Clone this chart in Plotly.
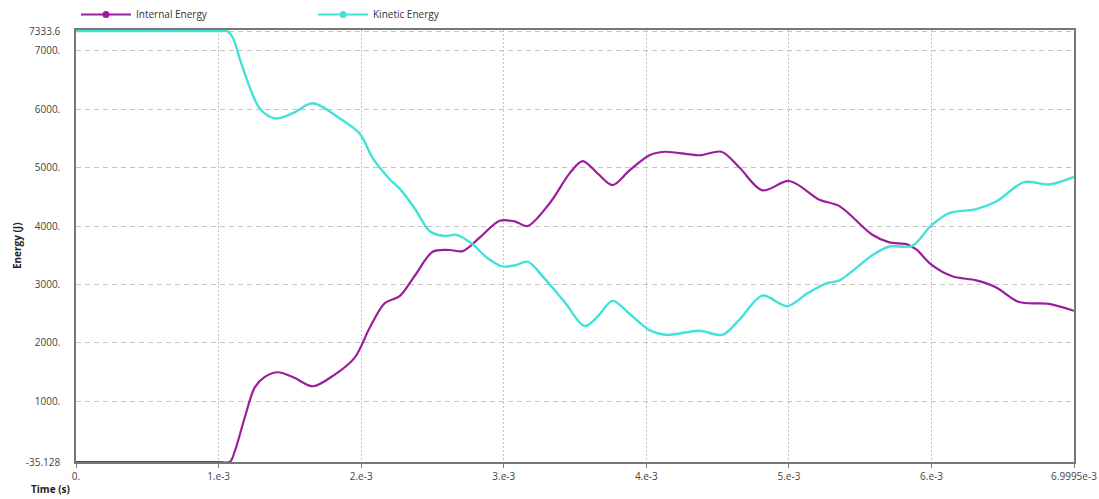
import plotly.graph_objects as go

# Time stamps (s) and energies (J)
time_kinetic = [0.0, 0.5e-3, 1.0e-3, 1.060e-3, 1.100e-3, 1.150e-3, 1.219e-3, 1.289e-3, 1.395e-3,
                1.521e-3, 1.661e-3, 1.850e-3, 1.990e-3, 2.081e-3, 2.200e-3, 2.270e-3, 2.376e-3,
                2.481e-3, 2.586e-3, 2.670e-3, 2.775e-3, 2.887e-3, 2.992e-3, 3.083e-3, 3.167e-3,
                3.287e-3, 3.427e-3, 3.567e-3, 3.658e-3, 3.763e-3, 3.882e-3, 4.022e-3, 4.142e-3,
                4.373e-3, 4.534e-3, 4.653e-3, 4.814e-3, 4.989e-3, 5.130e-3, 5.263e-3, 5.354e-3,
                5.585e-3, 5.704e-3, 5.865e-3, 5.999e-3, 6.125e-3, 6.314e-3, 6.454e-3, 6.650e-3,
                6.825e-3, 6.9995e-3]
kinetic_energy = [7333.6, 7333.6, 7333.6, 7333.6, 7220, 6850, 6370, 6010, 5840,
                  5930, 6100, 5840, 5580, 5160, 4800, 4640, 4300,
                  3910, 3830, 3850, 3700, 3450, 3310, 3330, 3390,
                  3100, 2700, 2290, 2450, 2720, 2500, 2220, 2140,
                  2210, 2140, 2400, 2810, 2630, 2850, 3020, 3070,
                  3500, 3650, 3660, 4010, 4220, 4290, 4420, 4750,
                  4710, 4840]

time_internal = [0.0, 0.5e-3, 1.0e-3, 1.079e-3, 1.114e-3, 1.184e-3, 1.254e-3, 1.324e-3, 1.416e-3,
                 1.535e-3, 1.661e-3, 1.815e-3, 1.955e-3, 2.060e-3, 2.165e-3, 2.270e-3, 2.376e-3,
                 2.502e-3, 2.621e-3, 2.712e-3, 2.831e-3, 2.971e-3, 3.076e-3, 3.167e-3, 3.322e-3,
                 3.462e-3, 3.553e-3, 3.658e-3, 3.763e-3, 3.882e-3, 4.022e-3, 4.128e-3, 4.373e-3,
                 4.527e-3, 4.653e-3, 4.814e-3, 5.003e-3, 5.214e-3, 5.354e-3, 5.585e-3, 5.704e-3,
                 5.823e-3, 5.893e-3, 5.999e-3, 6.146e-3, 6.314e-3, 6.454e-3, 6.615e-3, 6.825e-3,
                 6.9995e-3]
internal_energy = [-35.128, -35.128, -35.128, -35.128, 150, 730, 1240, 1420, 1500,
                   1400, 1260, 1460, 1750, 2260, 2680, 2800, 3150,
                   3560, 3590, 3570, 3800, 4090, 4080, 4000, 4390,
                   4900, 5110, 4900, 4700, 4950, 5210, 5270, 5210,
                   5270, 5000, 4610, 4770, 4450, 4340, 3850, 3720,
                   3690, 3600, 3340, 3140, 3070, 2950, 2700, 2670,
                   2550]

x_tickvals = [0.0, 1e-3, 2e-3, 3e-3, 4e-3, 5e-3, 6e-3, 6.9995e-3]
x_ticktext = ["0.", "1.e-3", "2.e-3", "3.e-3", "4.e-3", "5.e-3", "6.e-3", "6.9995e-3"]
y_tickvals = [-35.128, 1000, 2000, 3000, 4000, 5000, 6000, 7000, 7333.6]
y_ticktext = ["-35.128", "1000.", "2000.", "3000.", "4000.", "5000.", "6000.", "7000.", "7333.6"]

PURPLE = "#9A1E9C"
CYAN = "#42E2D8"
FONT = "Open Sans"

fig = go.Figure()
fig.add_trace(go.Scatter(
    x=time_internal, y=internal_energy, name="Internal Energy", showlegend=False,
    mode="lines", line=dict(color=PURPLE, width=2.2, shape="spline", smoothing=0.9),
))
fig.add_trace(go.Scatter(
    x=time_kinetic, y=kinetic_energy, name="Kinetic Energy", showlegend=False,
    mode="lines", line=dict(color=CYAN, width=2.4, shape="spline", smoothing=0.9),
))
# legend entries carry a marker dot on the line
fig.add_trace(go.Scatter(
    x=[None], y=[None], name="Internal Energy",
    mode="lines+markers", line=dict(color=PURPLE, width=2), marker=dict(size=7, color=PURPLE),
))
fig.add_trace(go.Scatter(
    x=[None], y=[None], name="Kinetic Energy",
    mode="lines+markers", line=dict(color=CYAN, width=2), marker=dict(size=7, color=CYAN),
))

grid = "#C4C4C4"
fig.update_xaxes(
    range=[0, 6.9995e-3], tickvals=x_tickvals, ticktext=x_ticktext,
    showgrid=True, gridcolor=grid, griddash="2px,2px", gridwidth=1,
    showline=True, linecolor="#777", linewidth=1.5, mirror=True,
    ticks="outside", ticklen=4, tickcolor="#777",
    tickfont=dict(family=FONT, size=10, color="#444"), zeroline=False,
)
fig.update_yaxes(
    range=[-35.128, 7352], tickvals=y_tickvals, ticktext=y_ticktext,
    showgrid=True, gridcolor=grid, griddash="5px,4px", gridwidth=1,
    showline=True, linecolor="#777", linewidth=1.5, mirror=True,
    ticks="outside", ticklen=4, tickcolor="#fff", ticklabelstandoff=8,
    tickfont=dict(family=FONT, size=10, color="#444"), zeroline=False,
)

fig.add_annotation(text="<b>Energy (J)</b>", textangle=-90, xref="paper", yref="paper",
                   x=-0.059, y=0.5, xanchor="center", yanchor="middle", showarrow=False,
                   font=dict(family=FONT, size=10, color="#222"))
fig.add_annotation(text="<b>Time (s)</b>", xref="paper", yref="paper",
                   x=-0.047, y=-0.063, xanchor="left", yanchor="middle", showarrow=False,
                   font=dict(family=FONT, size=10, color="#222"))

fig.update_layout(
    width=1099, height=499,
    margin=dict(l=76, r=25, t=30, b=37, autoexpand=False),
    paper_bgcolor="white", plot_bgcolor="white",
    showlegend=True,
    legend=dict(orientation="h", x=0.0, y=1.0, xref="paper", yref="container",
                xanchor="left", yanchor="top", itemwidth=50,
                entrywidth=172, entrywidthmode="pixels",
                font=dict(family=FONT, size=10, color="#333"),
                bgcolor="rgba(0,0,0,0)"),
)

fig.write_html("out.html")
